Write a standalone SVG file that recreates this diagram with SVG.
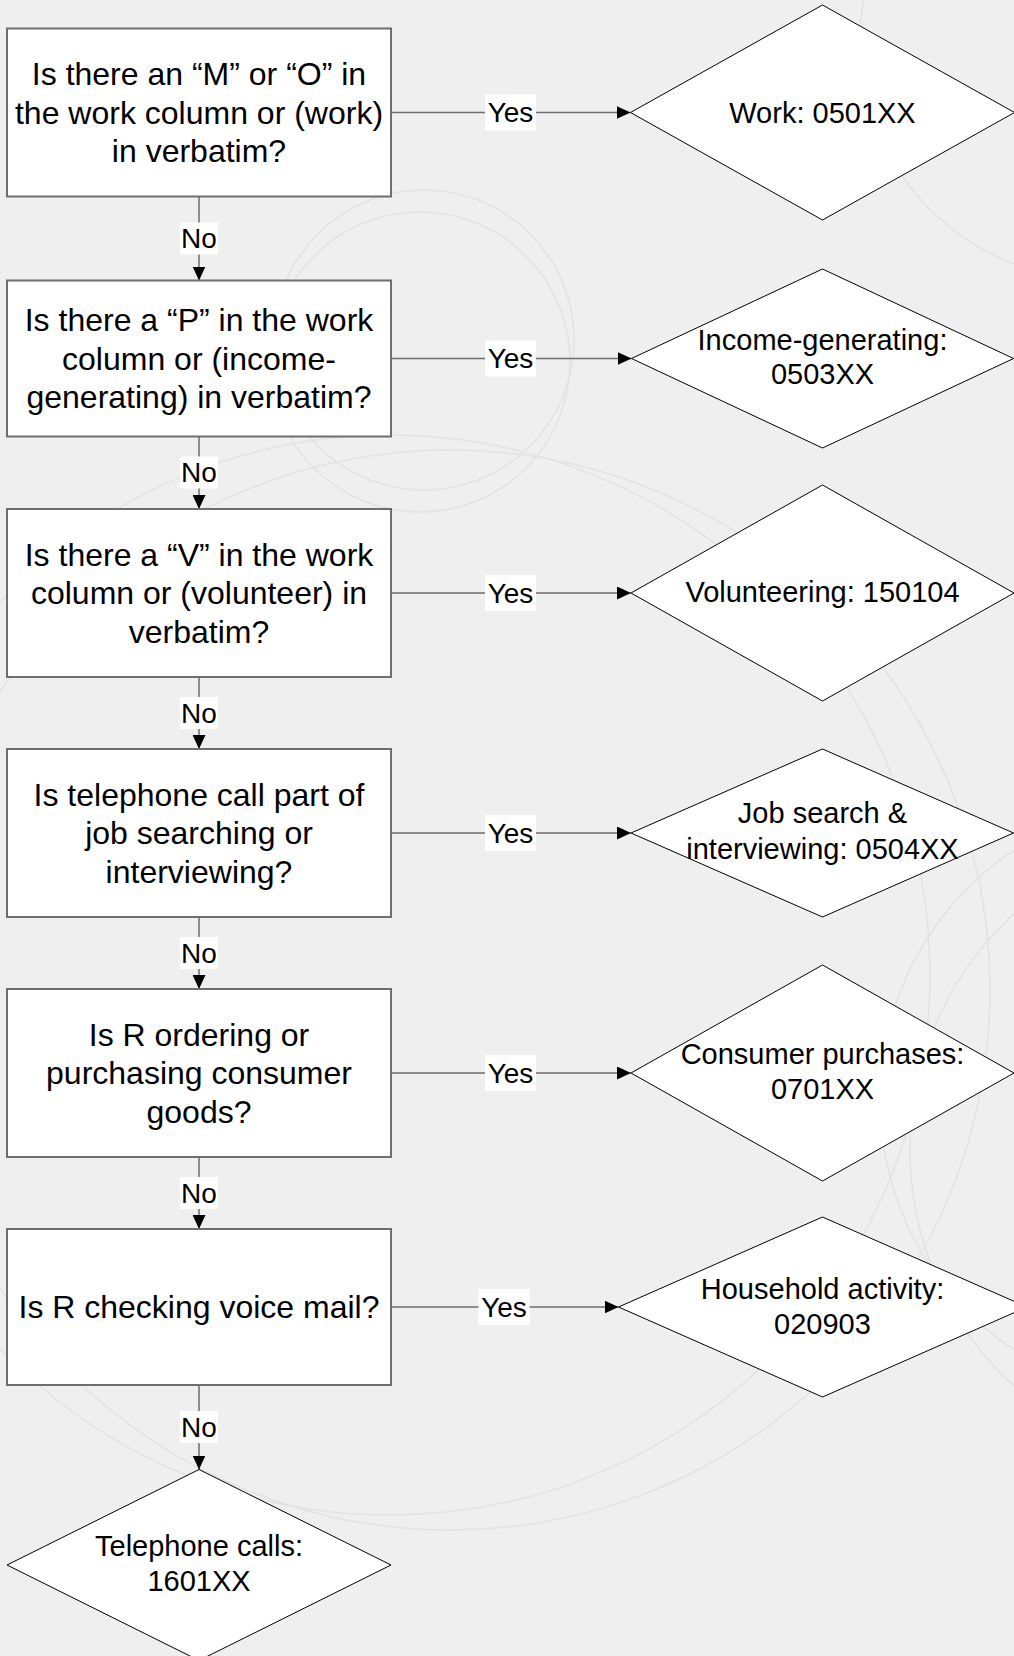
<svg xmlns="http://www.w3.org/2000/svg" width="1014" height="1656" viewBox="0 0 1014 1656">
<defs>
<marker id="arr" markerUnits="userSpaceOnUse" markerWidth="14" markerHeight="13" refX="14" refY="6.5" orient="auto">
<path d="M0,0 L14,6.5 L0,13 Z" fill="#000"/>
</marker>
<style>
.bg{fill:#efefef}
.arc{fill:none;stroke:#e2e2e2;stroke-width:1.5}
.box{fill:#fff;stroke:#6e6e6e;stroke-width:2}
.dia{fill:#fff;stroke:#000;stroke-width:1}
.bt{font-family:"Liberation Sans",Arial,sans-serif;font-size:32px;fill:#000;text-anchor:middle}
.dt{font-family:"Liberation Sans",Arial,sans-serif;font-size:29px;fill:#000;text-anchor:middle}
.con{fill:none;stroke:#6e6e6e;stroke-width:1.5;marker-end:url(#arr)}
.lb{fill:#fff}
.lt{font-family:"Liberation Sans",Arial,sans-serif;font-size:28px;fill:#000;text-anchor:middle}
</style>
</defs>
<rect class="bg" x="0" y="0" width="1014" height="1656"/>
<g id="background-arcs">
<circle class="arc" cx="424" cy="340" r="150"/>
<circle class="arc" cx="420" cy="362" r="150"/>
<circle class="arc" cx="390" cy="975" r="540"/>
<circle class="arc" cx="450" cy="990" r="540"/>
<circle class="arc" cx="1180" cy="1100" r="300"/>
<circle class="arc" cx="1230" cy="1150" r="320"/>
<circle class="arc" cx="1100" cy="40" r="240"/>
</g>
<g id="connectors">
<line class="con" x1="391" y1="112.5" x2="630.5" y2="112.5"/>
<line class="con" x1="391" y1="358.5" x2="631.5" y2="358.5"/>
<line class="con" x1="391" y1="593" x2="631" y2="593"/>
<line class="con" x1="391" y1="833" x2="631" y2="833"/>
<line class="con" x1="391" y1="1073" x2="631" y2="1073"/>
<line class="con" x1="391" y1="1307" x2="618.5" y2="1307"/>
<line class="con" x1="199" y1="196.5" x2="199" y2="280.5"/>
<line class="con" x1="199" y1="436.5" x2="199" y2="509"/>
<line class="con" x1="199" y1="677" x2="199" y2="749"/>
<line class="con" x1="199" y1="917" x2="199" y2="989"/>
<line class="con" x1="199" y1="1157" x2="199" y2="1229"/>
<line class="con" x1="199" y1="1385" x2="199" y2="1469.5"/>
<g id="labels">
<rect class="lb" x="485" y="94.5" width="51" height="36"/><text class="lt" x="510.5" y="122">Yes</text>
<rect class="lb" x="485" y="340.5" width="51" height="36"/><text class="lt" x="510.5" y="368">Yes</text>
<rect class="lb" x="485" y="575" width="51" height="36"/><text class="lt" x="510.5" y="602.5">Yes</text>
<rect class="lb" x="485" y="815" width="51" height="36"/><text class="lt" x="510.5" y="842.5">Yes</text>
<rect class="lb" x="485" y="1055" width="51" height="36"/><text class="lt" x="510.5" y="1082.5">Yes</text>
<rect class="lb" x="478.5" y="1289" width="51" height="36"/><text class="lt" x="504" y="1316.5">Yes</text>
<rect class="lb" x="180" y="222.5" width="38" height="32"/><text class="lt" x="199" y="248">No</text>
<rect class="lb" x="180" y="456.5" width="38" height="32"/><text class="lt" x="199" y="482">No</text>
<rect class="lb" x="180" y="697" width="38" height="32"/><text class="lt" x="199" y="722.5">No</text>
<rect class="lb" x="180" y="937" width="38" height="32"/><text class="lt" x="199" y="962.5">No</text>
<rect class="lb" x="180" y="1177" width="38" height="32"/><text class="lt" x="199" y="1202.5">No</text>
<rect class="lb" x="180" y="1411" width="38" height="32"/><text class="lt" x="199" y="1436.5">No</text>
</g>
</g>
<g id="q1"><rect class="box" x="7" y="28.5" width="384" height="168"/>
<text class="bt"><tspan x="199" y="85">Is there an “M” or “O” in</tspan><tspan x="199" y="123.5">the work column or (work)</tspan><tspan x="199" y="162">in verbatim?</tspan></text></g>
<g id="q2"><rect class="box" x="7" y="280.5" width="384" height="156"/>
<text class="bt"><tspan x="199" y="331">Is there a “P” in the work</tspan><tspan x="199" y="369.5">column or (income-</tspan><tspan x="199" y="408">generating) in verbatim?</tspan></text></g>
<g id="q3"><rect class="box" x="7" y="509" width="384" height="168"/>
<text class="bt"><tspan x="199" y="565.5">Is there a “V” in the work</tspan><tspan x="199" y="604">column or (volunteer) in</tspan><tspan x="199" y="642.5">verbatim?</tspan></text></g>
<g id="q4"><rect class="box" x="7" y="749" width="384" height="168"/>
<text class="bt"><tspan x="199" y="805.5">Is telephone call part of</tspan><tspan x="199" y="844">job searching or</tspan><tspan x="199" y="882.5">interviewing?</tspan></text></g>
<g id="q5"><rect class="box" x="7" y="989" width="384" height="168"/>
<text class="bt"><tspan x="199" y="1045.5">Is R ordering or</tspan><tspan x="199" y="1084">purchasing consumer</tspan><tspan x="199" y="1122.5">goods?</tspan></text></g>
<g id="q6"><rect class="box" x="7" y="1229" width="384" height="156"/>
<text class="bt" x="199" y="1318">Is R checking voice mail?</text></g>
<g id="d1"><polygon class="dia" points="822.5,5 1014.5,112.5 822.5,220 630.5,112.5"/>
<text class="dt" x="822.5" y="122.5">Work: 0501XX</text></g>
<g id="d2"><polygon class="dia" points="822.5,269 1013.5,358.5 822.5,448 631.5,358.5"/>
<text class="dt"><tspan x="822.5" y="350">Income-generating:</tspan><tspan x="822.5" y="384">0503XX</tspan></text></g>
<g id="d3"><polygon class="dia" points="822.5,485 1014,593 822.5,701 631,593"/>
<text class="dt" x="822.5" y="602">Volunteering: 150104</text></g>
<g id="d4"><polygon class="dia" points="822.5,749 1013.5,833 822.5,917 631,833"/>
<text class="dt"><tspan x="822.5" y="823">Job search &amp;</tspan><tspan x="822.5" y="859">interviewing: 0504XX</tspan></text></g>
<g id="d5"><polygon class="dia" points="822.5,965 1014,1073 822.5,1181 631,1073"/>
<text class="dt"><tspan x="822.5" y="1064">Consumer purchases:</tspan><tspan x="822.5" y="1099">0701XX</tspan></text></g>
<g id="d6"><polygon class="dia" points="822.5,1217 1027,1307 822.5,1397 618.5,1307"/>
<text class="dt"><tspan x="822.5" y="1298.5">Household activity:</tspan><tspan x="822.5" y="1333.5">020903</tspan></text></g>
<g id="d7"><polygon class="dia" points="199,1469.5 391,1565 199,1660.5 7,1565"/>
<text class="dt"><tspan x="199" y="1556">Telephone calls:</tspan><tspan x="199" y="1591">1601XX</tspan></text></g>
</svg>
